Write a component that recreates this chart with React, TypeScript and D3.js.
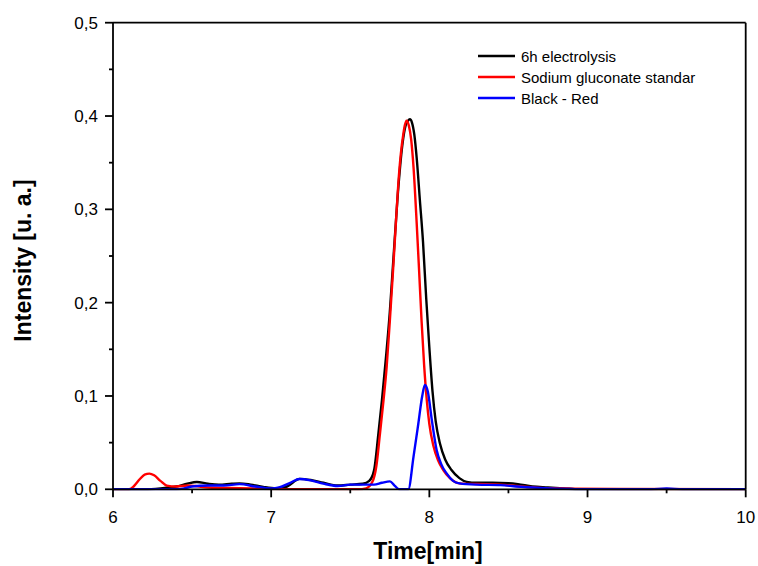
import React from "react";
import * as d3 from "d3";

const blackT = [6.0, 6.2, 6.3, 6.4, 6.47, 6.53, 6.6, 6.67, 6.75, 6.8, 6.87, 6.95, 7.03, 7.1, 7.18, 7.25, 7.33, 7.42, 7.5, 7.58, 7.62, 7.65, 7.678, 7.7, 7.725, 7.75, 7.772, 7.8, 7.83, 7.85, 7.865, 7.877, 7.89, 7.905, 7.92, 7.94, 7.96, 7.98, 8.0, 8.02, 8.04, 8.067, 8.1, 8.14, 8.19, 8.236, 8.3, 8.4, 8.5, 8.56, 8.65, 8.75, 8.85, 8.95, 10.0];
const blackV = [0, 0, 0.001, 0.003, 0.006, 0.0078, 0.006, 0.005, 0.006, 0.0064, 0.005, 0.0025, 0.001, 0.003, 0.0112, 0.01, 0.007, 0.004, 0.005, 0.006, 0.009, 0.02, 0.06, 0.095, 0.14, 0.19, 0.245, 0.315, 0.37, 0.39, 0.395, 0.3965, 0.393, 0.38, 0.355, 0.31, 0.265, 0.205, 0.152, 0.105, 0.073, 0.049, 0.032, 0.0207, 0.012, 0.008, 0.007, 0.007, 0.0065, 0.0055, 0.003, 0.002, 0.001, 0, 0];

const redT = [6.0, 6.1, 6.13, 6.17, 6.2, 6.23, 6.26, 6.3, 6.34, 6.4, 6.47, 6.52, 6.6, 6.8, 7.0, 7.1, 7.55, 7.6, 7.64, 7.665, 7.688, 7.71, 7.73, 7.75, 7.772, 7.79, 7.804, 7.82, 7.835, 7.845, 7.856, 7.87, 7.885, 7.9, 7.92, 7.935, 7.951, 7.967, 7.983, 8.0, 8.025, 8.055, 8.088, 8.13, 8.19, 8.3, 8.45, 8.55, 8.7, 8.9, 9.2, 10.0];
const redV = [0, 0, 0.003, 0.011, 0.0158, 0.0168, 0.015, 0.009, 0.004, 0.003, 0.004, 0.0035, 0.002, 0.0012, 0.0003, 0, 0, 0.001, 0.008, 0.025, 0.06, 0.095, 0.131, 0.18, 0.2385, 0.29, 0.328, 0.36, 0.38, 0.39, 0.395, 0.39, 0.375, 0.345, 0.285, 0.235, 0.18, 0.133, 0.097, 0.07, 0.047, 0.031, 0.0207, 0.012, 0.0064, 0.0057, 0.005, 0.0035, 0.0015, 0.0007, 0.0003, 0];

const blueT = [6.0, 6.4, 6.45, 6.5, 6.6, 6.7, 6.8, 6.9, 7.0, 7.05, 7.12, 7.18, 7.25, 7.33, 7.42, 7.5, 7.58, 7.65, 7.7, 7.751, 7.78, 7.81, 7.867, 7.9, 7.93, 7.955, 7.972, 7.99, 8.015, 8.046, 8.075, 8.109, 8.15, 8.19, 8.3, 8.45, 8.55, 8.7, 8.9, 9.0, 9.4, 9.5, 9.6, 10.0];
const blueV = [0, 0, 0.001, 0.003, 0.004, 0.004, 0.0055, 0.003, 0.001, 0.002, 0.007, 0.011, 0.0095, 0.006, 0.0035, 0.005, 0.005, 0.005, 0.007, 0.0085, 0.004, 0, 0, 0.035, 0.07, 0.1, 0.1118, 0.105, 0.075, 0.042, 0.027, 0.017, 0.009, 0.0064, 0.005, 0.0045, 0.003, 0.0015, 0.0003, 0, 0, 0.0008, 0, 0];

const xTicks = [6, 7, 8, 9, 10];
const xMinor = [6.5, 7.5, 8.5, 9.5];
const yTicks = [0, 0.1, 0.2, 0.3, 0.4, 0.5];
const yMinor = [0.05, 0.15, 0.25, 0.35, 0.45];
const seriesNames = ["6h electrolysis", "Sodium gluconate standar", "Black - Red"];
const seriesColors = ["#000000", "#ff0000", "#0000ff"];

export default function App() {
  const W = 758, H = 566;
  const x0 = 113, x1 = 745.7, y0 = 489.3, y1 = 22.7;
  const x = d3.scaleLinear().domain([6, 10]).range([x0, x1]);
  const y = d3.scaleLinear().domain([0, 0.5]).range([y0, y1]);
  const line = d3
    .line<[number, number]>()
    .x((d) => x(d[0]))
    .y((d) => y(d[1]))
    .curve(d3.curveMonotoneX);
  const series = [
    blackT.map((t, i) => [t, blackV[i]] as [number, number]),
    redT.map((t, i) => [t, redV[i]] as [number, number]),
    blueT.map((t, i) => [t, blueV[i]] as [number, number]),
  ];
  const fmt = (v: number) => v.toFixed(1).replace(".", ",");
  const font = "Arial, 'Liberation Sans', sans-serif";
  const ax = { stroke: "#000", strokeWidth: 1.8 };
  return (
    <svg width={W} height={H} style={{ position: "absolute", left: 0, top: 0, background: "#fff" }} fontFamily={font}>
      <rect x={0} y={0} width={W} height={H} fill="#fff" />
      <defs>
        <clipPath id="plot">
          <rect x={x0} y={y1} width={x1 - x0} height={y0 - y1 + 1} />
        </clipPath>
      </defs>
      <g clipPath="url(#plot)">
        {series.map((s, i) => (
          <path key={i} d={line(s) || ""} fill="none" stroke={seriesColors[i]} strokeWidth={2.4} strokeLinejoin="round" />
        ))}
      </g>
      <line x1={x0} x2={x1} y1={y0} y2={y0} {...ax} />
      <line x1={x0} x2={x1} y1={y1} y2={y1} {...ax} />
      <line x1={x0} x2={x0} y1={y0} y2={y1} {...ax} />
      <line x1={x1} x2={x1} y1={y0} y2={y1} {...ax} />
      {xTicks.map((t) => (
        <g key={"xt" + t}>
          <line x1={x(t)} x2={x(t)} y1={y0} y2={y0 + 8} {...ax} />
          <text x={x(t)} y={523} textAnchor="middle" fontSize={17}>
            {t}
          </text>
        </g>
      ))}
      {xMinor.map((t) => (
        <line key={"xm" + t} x1={x(t)} x2={x(t)} y1={y0} y2={y0 + 4} {...ax} />
      ))}
      {yTicks.map((v) => (
        <g key={"yt" + v}>
          <line x1={x0 - 8} x2={x0} y1={y(v)} y2={y(v)} {...ax} />
          <text x={98} y={y(v) + 6} textAnchor="end" fontSize={17}>
            {fmt(v)}
          </text>
        </g>
      ))}
      {yMinor.map((v) => (
        <line key={"ym" + v} x1={x0 - 4} x2={x0} y1={y(v)} y2={y(v)} {...ax} />
      ))}
      <text x={428} y={559} textAnchor="middle" fontSize={23} fontWeight="bold">
        Time[min]
      </text>
      <text
        transform={`translate(31,${260.5}) rotate(-90)`}
        textAnchor="middle"
        fontSize={23}
        fontWeight="bold"
      >
        Intensity [u. a.]
      </text>
      {seriesNames.map((n, i) => (
        <g key={n}>
          <line x1={478} x2={515} y1={56 + i * 21} y2={56 + i * 21} stroke={seriesColors[i]} strokeWidth={2.4} />
          <text x={521} y={56 + i * 21 + 5.5} fontSize={15}>
            {n}
          </text>
        </g>
      ))}
    </svg>
  );
}
